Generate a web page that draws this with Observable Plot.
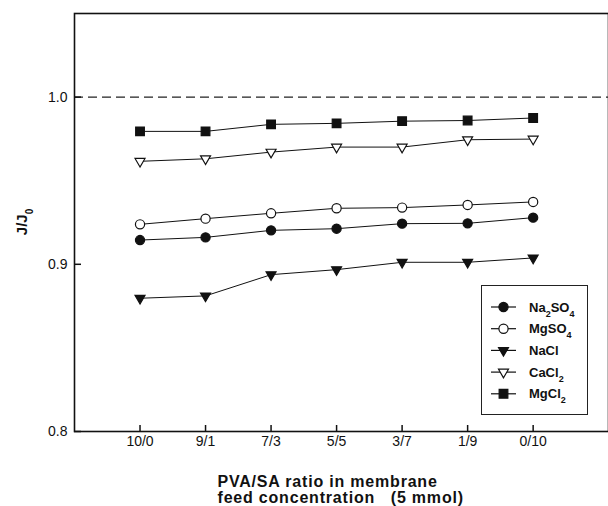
<!DOCTYPE html>
<html>
<head>
<meta charset="utf-8">
<script src="https://cdn.jsdelivr.net/npm/d3@7"></script>
<script src="https://cdn.jsdelivr.net/npm/@observablehq/plot@0.6"></script>
<style>
  body { margin: 0; background: white; }
  #wrap { position: relative; width: 608px; height: 506px; }
  #legend { position: absolute; left: 481px; top: 285px; }
</style>
</head>
<body>
<div id="wrap"></div>
<script>
// ---- data ----
const categories = ["10/0", "9/1", "7/3", "5/5", "3/7", "1/9", "0/10"];
const na2so4 = [0.9145, 0.9161, 0.9203, 0.9213, 0.9243, 0.9245, 0.9279];
const mgso4  = [0.9239, 0.9273, 0.9305, 0.9335, 0.9339, 0.9355, 0.9373];
const nacl   = [0.8797, 0.8811, 0.8938, 0.8968, 0.9012, 0.9012, 0.9038];
const cacl2  = [0.9616, 0.9631, 0.9671, 0.9701, 0.9701, 0.9745, 0.9749];
const mgcl2  = [0.9795, 0.9795, 0.9837, 0.9843, 0.9856, 0.9860, 0.9875];
const yTicks = [0.8, 0.9, 1.0];
const refLine = [1.0];
const xLabel1 = "PVA/SA ratio in membrane";
const xLabel2 = "feed concentration   (5 mmol)";

const seriesDefs = [
  {key: "Na2SO4", values: na2so4, symbol: "circle",   fill: "#111",  r: 4.6, rotate: 0,   label: ["Na", "2", "SO", "4"]},
  {key: "MgSO4",  values: mgso4,  symbol: "circle",   fill: "white", r: 4.6, rotate: 0,   label: ["MgSO", "4"]},
  {key: "NaCl",   values: nacl,   symbol: "triangle", fill: "#111",  r: 3.7, rotate: 180, label: ["NaCl"]},
  {key: "CaCl2",  values: cacl2,  symbol: "triangle", fill: "white", r: 3.7, rotate: 180, label: ["CaCl", "2"]},
  {key: "MgCl2",  values: mgcl2,  symbol: "square",   fill: "#111",  r: 4.9, rotate: 0,   label: ["MgCl", "2"]}
];

const rows = seriesDefs.flatMap(s => s.values.map((v, i) => ({series: s.key, i, v})));
const xTickIdx = d3.range(categories.length);

const font = "'Liberation Sans', Arial, Helvetica, sans-serif";

const plot = Plot.plot({
  width: 608,
  height: 506,
  marginLeft: 74,
  marginRight: 0,
  marginTop: 13,
  marginBottom: 75,
  x: {type: "linear", domain: [-1, 7.15]},
  y: {domain: [0.8, 1.05]},
  style: {fontFamily: font, fontSize: "14px", color: "#111", background: "white"},
  marks: [
    Plot.ruleY(refLine, {stroke: "#222", strokeWidth: 1.2, strokeDasharray: "9,5"}),
    // y axis: labels outside, ticks pointing inward
    Plot.axisY({ticks: yTicks, tickSize: 0, tickPadding: 7, tickFormat: d3.format(".1f"), label: null, fontSize: 14}),
    Plot.axisY({ticks: yTicks, tickSize: 7, dx: 7, tickFormat: () => "", label: null, strokeWidth: 1.5}),
    // x axis: labels outside, ticks pointing inward
    Plot.axisX({ticks: xTickIdx, tickSize: 0, tickPadding: 5, tickFormat: i => categories[i], label: null, fontSize: 14}),
    Plot.axisX({ticks: xTickIdx, tickSize: 6, dy: -6, tickFormat: () => "", label: null, strokeWidth: 1.5}),
    Plot.frame({stroke: "#111", strokeWidth: 1.6}),
    Plot.line(rows, {x: "i", y: "v", z: "series", stroke: "#111", strokeWidth: 1}),
    ...seriesDefs.map(s =>
      Plot.dot(rows.filter(d => d.series === s.key), {
        x: "i", y: "v", symbol: s.symbol, r: s.r, fill: s.fill,
        stroke: "#111", strokeWidth: 1.2, rotate: s.rotate
      })
    ),
    Plot.text([xLabel1], {frameAnchor: "bottom-left", textAnchor: "start", lineAnchor: "bottom",
      dx: 143, dy: 55, fontWeight: "bold", fontSize: 16}),
    Plot.text([xLabel2], {frameAnchor: "bottom-left", textAnchor: "start", lineAnchor: "bottom",
      dx: 143, dy: 71, fontWeight: "bold", fontSize: 16})
  ]
});

document.getElementById("wrap").appendChild(plot);
const svg = d3.select(plot);

// letter spacing for the x label lines
svg.selectAll("text").filter(function() {
  const t = this.textContent; return t === xLabel1 || t === xLabel2;
}).style("letter-spacing", "0.8px").style("white-space", "pre");

// y axis title with subscript
const yt = svg.append("text")
  .attr("transform", "translate(22,222) rotate(-90)")
  .attr("text-anchor", "middle")
  .attr("dy", "0.35em")
  .style("font-family", font)
  .style("font-weight", "bold")
  .style("font-size", "15px")
  .attr("fill", "#111");
yt.append("tspan").text("J/J");
yt.append("tspan").attr("baseline-shift", "sub").style("font-size", "10px").text("0");

// legend
const lg = d3.select("#wrap").append("svg")
  .attr("id", "legend")
  .attr("width", 108).attr("height", 131);
lg.append("rect").attr("x", 0.5).attr("y", 0.5).attr("width", 106).attr("height", 129)
  .attr("fill", "white").attr("stroke", "#222").attr("stroke-width", 1);
const symMap = {circle: d3.symbolCircle, triangle: d3.symbolTriangle, square: d3.symbolSquare};
seriesDefs.forEach((s, k) => {
  const y = 22 + 21.7 * k;
  const g = lg.append("g").attr("transform", `translate(0,${y})`);
  g.append("line").attr("x1", 10).attr("x2", 35).attr("y1", 0).attr("y2", 0)
    .attr("stroke", "#111").attr("stroke-width", 1.2);
  if (s.symbol === "circle") {
    g.append("circle").attr("cx", 22.5).attr("cy", 0).attr("r", s.r)
      .attr("fill", s.fill).attr("stroke", "#111").attr("stroke-width", 1.2);
  } else {
    g.append("path")
      .attr("d", d3.symbol(symMap[s.symbol], s.r * s.r * Math.PI)())
      .attr("transform", `translate(22.5,0) rotate(${s.rotate})`)
      .attr("fill", s.fill).attr("stroke", "#111").attr("stroke-width", 1.2);
  }
  const t = g.append("text").attr("x", 48).attr("y", 0).attr("dy", "0.35em")
    .style("font-family", font).style("font-weight", "bold").style("font-size", "13px")
    .attr("fill", "#111");
  s.label.forEach((part, j) => {
    if (j % 2 === 0) t.append("tspan").text(part);
    else t.append("tspan").attr("baseline-shift", "sub").style("font-size", "9px").text(part);
  });
});
</script>
</body>
</html>
